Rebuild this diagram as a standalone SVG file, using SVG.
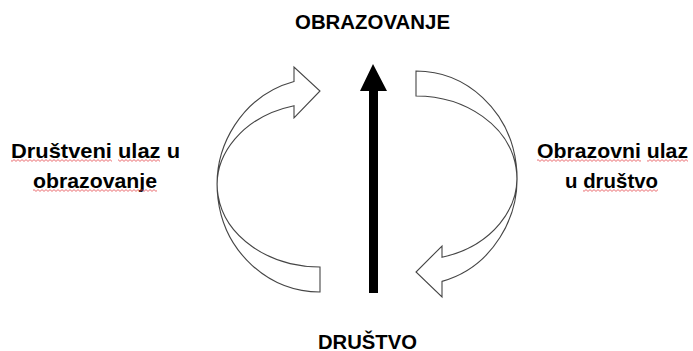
<svg xmlns="http://www.w3.org/2000/svg" width="693" height="351" viewBox="0 0 693 351">
<style>
.t{font-family:"Liberation Sans",Arial,sans-serif;font-weight:bold;font-size:21px;fill:#000}
.ca{fill:#fff;stroke:#454545;stroke-width:1.1;stroke-linejoin:miter}
.sq{fill:url(#sq)}
</style>
<defs>
<pattern id="sq" width="4" height="3" patternUnits="userSpaceOnUse">
<path d="M0 2.4 L2 0.6 L4 2.4" fill="none" stroke="#e5484d" stroke-width="0.8"/>
</pattern>
</defs>
<rect width="693" height="351" fill="#fff"/>
<g id="connectors">
<path id="left-curve" class="ca" d="M320,292 A103,107 0 0 1 294,81.5 L294,67 L320,91 L294,118 L294,105.7 A103,82 0 0 0 320,267 Z"/>
<path id="right-curve" class="ca" d="M416,71 A101,107 0 0 1 442,281.4 L442,297 L416,272 L442,246 L442,257.2 A101,82 0 0 0 416,96 Z"/>
<polygon id="center-arrow" points="373,64 387,91 378,91 378,293 369,293 369,91 360,91" fill="#000"/>
</g>
<g id="node-obrazovanje">
<text class="t" x="295" y="29" textLength="155" lengthAdjust="spacingAndGlyphs">OBRAZOVANJE</text>
</g>
<g id="node-drustvo">
<text class="t" x="318" y="348.5" textLength="99" lengthAdjust="spacingAndGlyphs">DRUŠTVO</text>
</g>
<g id="node-drustveni-ulaz">
<text class="t" x="11" y="157.5" textLength="169" lengthAdjust="spacingAndGlyphs">Društveni ulaz u</text>
<text class="t" x="33" y="187.5" textLength="124" lengthAdjust="spacingAndGlyphs">obrazovanje</text>
<rect class="sq" x="11" y="159" width="101" height="3"/>
<rect class="sq" x="118" y="159" width="42" height="3"/>
<rect class="sq" x="33" y="189" width="124" height="3"/>
</g>
<g id="node-obrazovni-ulaz">
<text class="t" x="537" y="157.5" textLength="151" lengthAdjust="spacingAndGlyphs">Obrazovni ulaz</text>
<text class="t" x="565" y="187.5" textLength="93" lengthAdjust="spacingAndGlyphs">u društvo</text>
<rect class="sq" x="537" y="159" width="104" height="3"/>
<rect class="sq" x="647" y="159" width="41" height="3"/>
<rect class="sq" x="583" y="189" width="75" height="3"/>
</g>
</svg>
